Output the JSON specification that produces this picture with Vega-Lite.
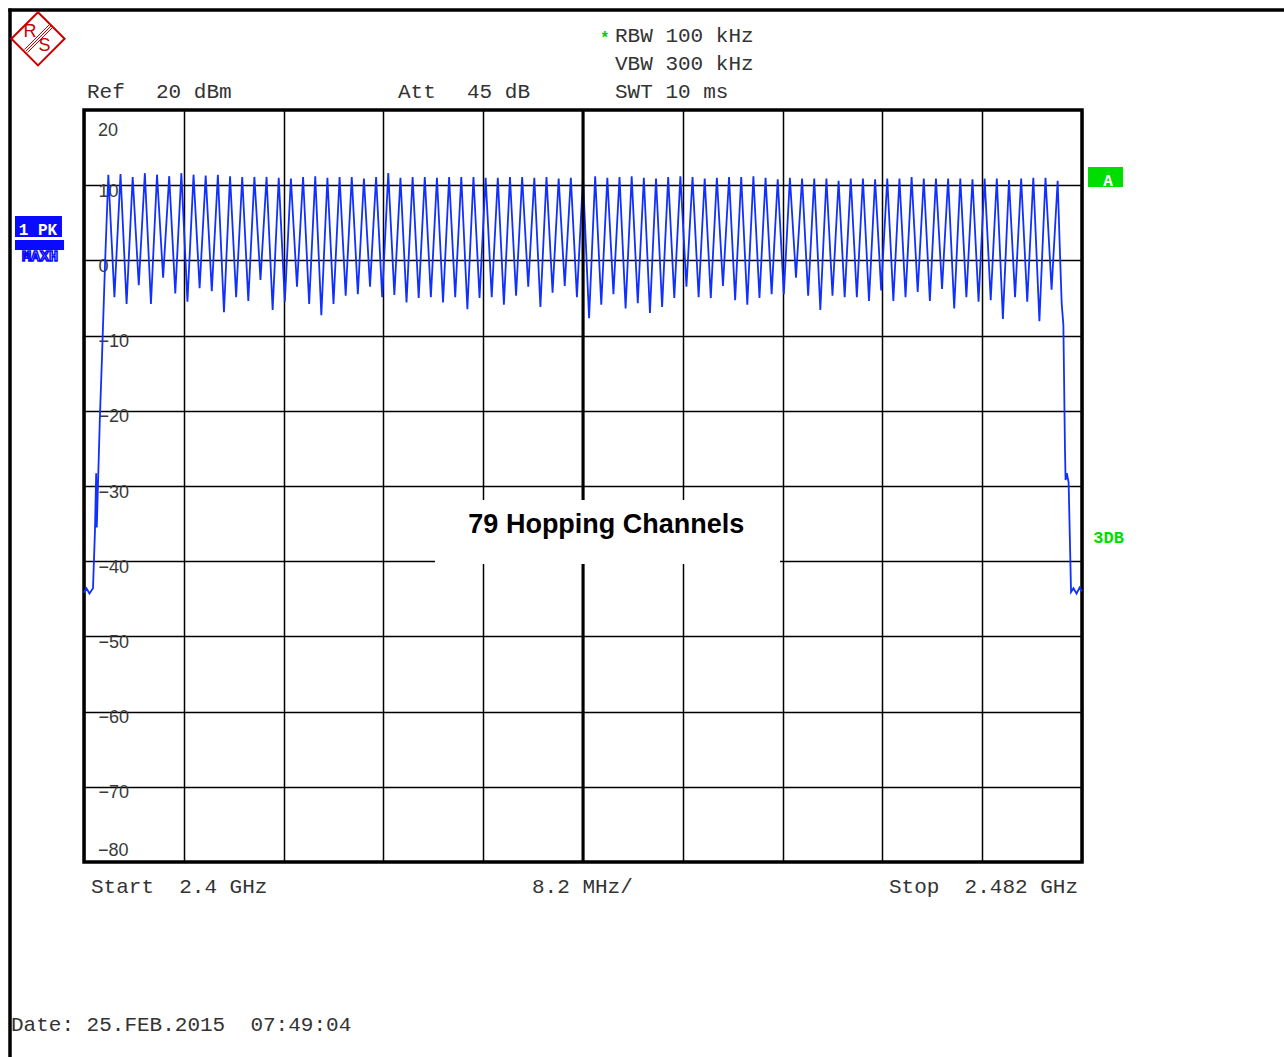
{
  "$schema": "https://vega.github.io/schema/vega-lite/v6.json",
  "width": 998,
  "height": 752,
  "autosize": {"type": "none"},
  "padding": {"left": 84, "top": 110, "right": 202, "bottom": 195},
  "background": "white",
  "config": {
    "view": {"stroke": "black", "strokeWidth": 3.5},
    "text": {"font": "Liberation Mono", "fontSize": 21, "fill": "#333333", "align": "left", "baseline": "middle"}
  },
  "layer": [
    {
      "data": {"values": [
        {"f": 2400.0, "p": -44.2}, {"f": 2400.2, "p": -43.6}, {"f": 2400.45, "p": -44.3}, {"f": 2400.74, "p": -43.6},
        {"f": 2400.9, "p": -36.0}, {"f": 2401.0, "p": -28.3}, {"f": 2401.05, "p": -35.5}, {"f": 2401.3, "p": -21.2},
        {"f": 2401.48, "p": -12.8}, {"f": 2401.73, "p": -0.4},
        {"f": 2402, "p": 11.4}, {"f": 2402.5, "p": -4.9},
        {"f": 2403, "p": 11.5}, {"f": 2403.5, "p": -5.8},
        {"f": 2404, "p": 11.1}, {"f": 2404.5, "p": -3.3},
        {"f": 2405, "p": 11.6}, {"f": 2405.5, "p": -5.8},
        {"f": 2406, "p": 11.4}, {"f": 2406.5, "p": -2.3},
        {"f": 2407, "p": 11.2}, {"f": 2407.5, "p": -4.4},
        {"f": 2408, "p": 11.6}, {"f": 2408.5, "p": -5.5},
        {"f": 2409, "p": 11.4}, {"f": 2409.5, "p": -3.7},
        {"f": 2410, "p": 11.3}, {"f": 2410.5, "p": -4.1},
        {"f": 2411, "p": 11.4}, {"f": 2411.5, "p": -6.9},
        {"f": 2412, "p": 11.2}, {"f": 2412.5, "p": -4.9},
        {"f": 2413, "p": 11.1}, {"f": 2413.5, "p": -5.4},
        {"f": 2414, "p": 11.1}, {"f": 2414.5, "p": -2.6},
        {"f": 2415, "p": 11.1}, {"f": 2415.5, "p": -6.6},
        {"f": 2416, "p": 11.0}, {"f": 2416.5, "p": -5.5},
        {"f": 2417, "p": 10.9}, {"f": 2417.5, "p": -3.5},
        {"f": 2418, "p": 11.1}, {"f": 2418.5, "p": -5.8},
        {"f": 2419, "p": 11.2}, {"f": 2419.5, "p": -7.3},
        {"f": 2420, "p": 11.0}, {"f": 2420.5, "p": -5.8},
        {"f": 2421, "p": 11.1}, {"f": 2421.5, "p": -4.7},
        {"f": 2422, "p": 11.1}, {"f": 2422.5, "p": -4.5},
        {"f": 2423, "p": 10.9}, {"f": 2423.5, "p": -3.5},
        {"f": 2424, "p": 11.1}, {"f": 2424.5, "p": -4.9},
        {"f": 2425, "p": 11.6}, {"f": 2425.5, "p": -4.6},
        {"f": 2426, "p": 11.0}, {"f": 2426.5, "p": -5.6},
        {"f": 2427, "p": 11.1}, {"f": 2427.5, "p": -5.0},
        {"f": 2428, "p": 11.1}, {"f": 2428.5, "p": -4.9},
        {"f": 2429, "p": 11.0}, {"f": 2429.5, "p": -5.6},
        {"f": 2430, "p": 11.1}, {"f": 2430.5, "p": -4.9},
        {"f": 2431, "p": 11.1}, {"f": 2431.5, "p": -6.5},
        {"f": 2432, "p": 11.1}, {"f": 2432.5, "p": -5.0},
        {"f": 2433, "p": 11.0}, {"f": 2433.5, "p": -4.9},
        {"f": 2434, "p": 11.0}, {"f": 2434.5, "p": -5.9},
        {"f": 2435, "p": 11.1}, {"f": 2435.5, "p": -4.7},
        {"f": 2436, "p": 11.1}, {"f": 2436.5, "p": -3.5},
        {"f": 2437, "p": 11.0}, {"f": 2437.5, "p": -6.2},
        {"f": 2438, "p": 11.1}, {"f": 2438.5, "p": -4.3},
        {"f": 2439, "p": 10.9}, {"f": 2439.5, "p": -3.4},
        {"f": 2440, "p": 11.0}, {"f": 2440.5, "p": -4.9},
        {"f": 2441, "p": 11.0}, {"f": 2441.5, "p": -7.7},
        {"f": 2442, "p": 11.2}, {"f": 2442.5, "p": -5.9},
        {"f": 2443, "p": 11.0}, {"f": 2443.5, "p": -4.5},
        {"f": 2444, "p": 11.1}, {"f": 2444.5, "p": -6.4},
        {"f": 2445, "p": 11.2}, {"f": 2445.5, "p": -5.7},
        {"f": 2446, "p": 11.0}, {"f": 2446.5, "p": -7.0},
        {"f": 2447, "p": 10.9}, {"f": 2447.5, "p": -6.2},
        {"f": 2448, "p": 11.1}, {"f": 2448.5, "p": -5.0},
        {"f": 2449, "p": 11.2}, {"f": 2449.5, "p": -3.5},
        {"f": 2450, "p": 11.1}, {"f": 2450.5, "p": -4.9},
        {"f": 2451, "p": 10.9}, {"f": 2451.5, "p": -5.0},
        {"f": 2452, "p": 11.0}, {"f": 2452.5, "p": -3.4},
        {"f": 2453, "p": 11.1}, {"f": 2453.5, "p": -5.3},
        {"f": 2454, "p": 11.1}, {"f": 2454.5, "p": -5.9},
        {"f": 2455, "p": 11.2}, {"f": 2455.5, "p": -5.0},
        {"f": 2456, "p": 11.0}, {"f": 2456.5, "p": -4.5},
        {"f": 2457, "p": 10.8}, {"f": 2457.5, "p": -4.5},
        {"f": 2458, "p": 11.0}, {"f": 2458.5, "p": -2.3},
        {"f": 2459, "p": 10.9}, {"f": 2459.5, "p": -4.7},
        {"f": 2460, "p": 10.9}, {"f": 2460.5, "p": -6.6},
        {"f": 2461, "p": 10.9}, {"f": 2461.5, "p": -4.7},
        {"f": 2462, "p": 10.6}, {"f": 2462.5, "p": -4.9},
        {"f": 2463, "p": 10.9}, {"f": 2463.5, "p": -4.9},
        {"f": 2464, "p": 10.9}, {"f": 2464.5, "p": -5.4},
        {"f": 2465, "p": 10.8}, {"f": 2465.5, "p": -4.0},
        {"f": 2466, "p": 10.9}, {"f": 2466.5, "p": -5.4},
        {"f": 2467, "p": 10.9}, {"f": 2467.5, "p": -4.9},
        {"f": 2468, "p": 11.1}, {"f": 2468.5, "p": -4.2},
        {"f": 2469, "p": 10.9}, {"f": 2469.5, "p": -5.4},
        {"f": 2470, "p": 10.9}, {"f": 2470.5, "p": -3.8},
        {"f": 2471, "p": 10.9}, {"f": 2471.5, "p": -6.4},
        {"f": 2472, "p": 10.9}, {"f": 2472.5, "p": -4.9},
        {"f": 2473, "p": 10.8}, {"f": 2473.5, "p": -5.5},
        {"f": 2474, "p": 10.9}, {"f": 2474.5, "p": -5.3},
        {"f": 2475, "p": 10.9}, {"f": 2475.5, "p": -7.8},
        {"f": 2476, "p": 10.7}, {"f": 2476.5, "p": -4.9},
        {"f": 2477, "p": 10.9}, {"f": 2477.5, "p": -5.5},
        {"f": 2478, "p": 11.0}, {"f": 2478.5, "p": -8.1},
        {"f": 2479, "p": 11.0}, {"f": 2479.5, "p": -3.9},
        {"f": 2480, "p": 10.6},
        {"f": 2480.2, "p": 0.5}, {"f": 2480.33, "p": -5.7}, {"f": 2480.47, "p": -8.6},
        {"f": 2480.6, "p": -25.0}, {"f": 2480.65, "p": -29.2}, {"f": 2480.75, "p": -28.3}, {"f": 2480.9, "p": -29.5},
        {"f": 2481.1, "p": -44.1}, {"f": 2481.3, "p": -43.6}, {"f": 2481.55, "p": -44.3}, {"f": 2481.8, "p": -43.5},
        {"f": 2482.0, "p": -44.0}
      ]},
      "mark": {"type": "line", "color": "#1030ff", "strokeWidth": 1.8},
      "encoding": {
        "x": {
          "field": "f", "type": "quantitative",
          "scale": {"domain": [2400, 2482], "nice": false, "zero": false},
          "axis": {
            "values": [2400, 2408.2, 2416.4, 2424.6, 2432.8, 2441, 2449.2, 2457.4, 2465.6, 2473.8, 2482],
            "grid": true, "gridColor": "black", "gridWidth": 1.5, "gridOpacity": 1,
            "labels": false, "ticks": false, "domain": false, "title": null
          }
        },
        "y": {
          "field": "p", "type": "quantitative",
          "scale": {"domain": [-80, 20], "nice": false, "zero": false},
          "axis": {
            "values": [-70, -60, -50, -40, -30, -20, -10, 0, 10],
            "grid": true, "gridColor": "black", "gridWidth": 1.5, "gridOpacity": 1,
            "ticks": false, "tickSize": 0, "domain": false, "title": null,
            "labelAlign": "left", "labelPadding": -14, "labelBaseline": "middle",
            "labelFont": "Liberation Sans", "labelFontSize": 18, "labelColor": "#3a3a3a",
            "labelOffset": 6, "labelFlush": false
          }
        }
      }
    },
    {
      "data": {"values": [{}]},
      "mark": {"type": "text", "text": "20", "font": "Liberation Sans", "fontSize": 18, "fill": "#3a3a3a"},
      "encoding": {"x": {"datum": 2401.15}, "y": {"datum": 17.2}}
    },
    {
      "data": {"values": [{}]},
      "mark": {"type": "text", "text": "−80", "font": "Liberation Sans", "fontSize": 18, "fill": "#3a3a3a"},
      "encoding": {"x": {"datum": 2401.15}, "y": {"datum": -78.5}}
    },
    {
      "data": {"values": [{}]},
      "mark": {"type": "rule", "color": "black", "strokeWidth": 3},
      "encoding": {"x": {"datum": 2441}, "y": {"datum": 20}, "y2": {"datum": -80}}
    },
    {
      "data": {"values": [{}]},
      "mark": {"type": "rect", "color": "white", "opacity": 1},
      "encoding": {"x": {"datum": 2428.84}, "x2": {"datum": 2457.19}, "y": {"datum": -31.86}, "y2": {"datum": -40.37}}
    },
    {
      "data": {"values": [{}]},
      "mark": {"type": "text", "text": "79 Hopping Channels", "font": "Liberation Sans", "fontWeight": "bold", "fontSize": 27, "fill": "black", "align": "center", "baseline": "alphabetic"},
      "encoding": {"x": {"datum": 2442.92}, "y": {"datum": -36.25}}
    },
    {
      "data": {"values": [{}]},
      "mark": {"type": "rule", "color": "black", "strokeWidth": 3.5},
      "encoding": {"x": {"datum": 2393.92}, "y": {"datum": 33.5}, "y2": {"datum": -110}}
    },
    {
      "data": {"values": [{}]},
      "mark": {"type": "rule", "color": "black", "strokeWidth": 3.5},
      "encoding": {"x": {"datum": 2393.78}, "x2": {"datum": 2520}, "y": {"datum": 33.3}}
    },
    {
      "data": {"values": [{}]},
      "mark": {"type": "point", "shape": "diamond", "size": 2830, "stroke": "#cc0000", "strokeWidth": 2, "fill": "white", "filled": false, "opacity": 1},
      "encoding": {"x": {"datum": 2396.22}, "y": {"datum": 29.47}}
    },
    {
      "data": {"values": [{}]},
      "mark": {"type": "rule", "color": "#cc0000", "strokeWidth": 1},
      "encoding": {"x": {"datum": 2397.165}, "x2": {"datum": 2395.11}, "y": {"datum": 31.37}, "y2": {"datum": 28.045}}
    },
    {
      "data": {"values": [{}]},
      "mark": {"type": "rule", "color": "#cc0000", "strokeWidth": 1},
      "encoding": {"x": {"datum": 2397.29}, "x2": {"datum": 2395.234}, "y": {"datum": 31.17}, "y2": {"datum": 27.846}}
    },
    {
      "data": {"values": [{}]},
      "mark": {"type": "rule", "color": "#cc0000", "strokeWidth": 1},
      "encoding": {"x": {"datum": 2397.412}, "x2": {"datum": 2395.357}, "y": {"datum": 30.97}, "y2": {"datum": 27.646}}
    },
    {
      "data": {"values": [{}]},
      "mark": {"type": "text", "text": "R", "font": "Liberation Sans", "fontSize": 18, "fill": "#cc0000", "align": "center"},
      "encoding": {"x": {"datum": 2395.56}, "y": {"datum": 30.37}}
    },
    {
      "data": {"values": [{}]},
      "mark": {"type": "text", "text": "S", "font": "Liberation Sans", "fontSize": 18, "fill": "#cc0000", "align": "center"},
      "encoding": {"x": {"datum": 2396.755}, "y": {"datum": 28.51}}
    },
    {
      "data": {"values": [{}]},
      "mark": {"type": "text", "text": "Ref"},
      "encoding": {"x": {"datum": 2400.246}, "y": {"datum": 22.39}}
    },
    {
      "data": {"values": [{}]},
      "mark": {"type": "text", "text": "20 dBm"},
      "encoding": {"x": {"datum": 2405.916}, "y": {"datum": 22.39}}
    },
    {
      "data": {"values": [{}]},
      "mark": {"type": "text", "text": "Att"},
      "encoding": {"x": {"datum": 2425.8}, "y": {"datum": 22.39}}
    },
    {
      "data": {"values": [{}]},
      "mark": {"type": "text", "text": "45 dB"},
      "encoding": {"x": {"datum": 2431.47}, "y": {"datum": 22.39}}
    },
    {
      "data": {"values": [{}]},
      "mark": {"type": "text", "text": "*", "fill": "#00cc00", "fontSize": 16, "fontWeight": "bold"},
      "encoding": {"x": {"datum": 2442.4}, "y": {"datum": 29.6}}
    },
    {
      "data": {"values": [{}]},
      "mark": {"type": "text", "text": "RBW 100 kHz"},
      "encoding": {"x": {"datum": 2443.63}, "y": {"datum": 29.84}}
    },
    {
      "data": {"values": [{}]},
      "mark": {"type": "text", "text": "VBW 300 kHz"},
      "encoding": {"x": {"datum": 2443.63}, "y": {"datum": 26.12}}
    },
    {
      "data": {"values": [{}]},
      "mark": {"type": "text", "text": "SWT 10 ms"},
      "encoding": {"x": {"datum": 2443.63}, "y": {"datum": 22.39}}
    },
    {
      "data": {"values": [{}]},
      "mark": {"type": "text", "text": "Start\u00a0\u00a02.4 GHz"},
      "encoding": {"x": {"datum": 2400.575}, "y": {"datum": -83.32}}
    },
    {
      "data": {"values": [{}]},
      "mark": {"type": "text", "text": "8.2 MHz/"},
      "encoding": {"x": {"datum": 2436.81}, "y": {"datum": -83.32}}
    },
    {
      "data": {"values": [{}]},
      "mark": {"type": "text", "text": "Stop\u00a0\u00a02.482 GHz"},
      "encoding": {"x": {"datum": 2466.14}, "y": {"datum": -83.32}}
    },
    {
      "data": {"values": [{}]},
      "mark": {"type": "text", "text": "Date: 25.FEB.2015\u00a0\u00a007:49:04"},
      "encoding": {"x": {"datum": 2394.0}, "y": {"datum": -101.68}}
    },
    {
      "data": {"values": [{}]},
      "mark": {"type": "rect", "color": "#0a0aff", "opacity": 1},
      "encoding": {"x": {"datum": 2394.33}, "x2": {"datum": 2398.19}, "y": {"datum": 5.9}, "y2": {"datum": 3.11}}
    },
    {
      "data": {"values": [{}]},
      "mark": {"type": "rect", "color": "#0a0aff", "opacity": 1},
      "encoding": {"x": {"datum": 2394.33}, "x2": {"datum": 2398.36}, "y": {"datum": 2.71}, "y2": {"datum": 1.38}}
    },
    {
      "data": {"values": [{}]},
      "mark": {"type": "text", "text": "1 PK", "fill": "white", "fontSize": 16, "fontWeight": "bold", "align": "center"},
      "encoding": {"x": {"datum": 2396.22}, "y": {"datum": 4.04}}
    },
    {
      "data": {"values": [{}]},
      "mark": {"type": "text", "text": "MAXH", "fill": "white", "stroke": "#0a0aff", "strokeWidth": 1.5, "fontSize": 15, "fontWeight": "bold", "align": "center"},
      "encoding": {"x": {"datum": 2396.38}, "y": {"datum": 0.6}}
    },
    {
      "data": {"values": [{}]},
      "mark": {"type": "rect", "color": "#00dd00", "opacity": 1},
      "encoding": {"x": {"datum": 2482.49}, "x2": {"datum": 2485.37}, "y": {"datum": 12.42}, "y2": {"datum": 9.76}}
    },
    {
      "data": {"values": [{}]},
      "mark": {"type": "text", "text": "A", "fill": "white", "fontSize": 16, "fontWeight": "bold", "align": "center"},
      "encoding": {"x": {"datum": 2484.14}, "y": {"datum": 10.5}}
    },
    {
      "data": {"values": [{}]},
      "mark": {"type": "text", "text": "3DB", "fill": "#00dd00", "fontSize": 17, "fontWeight": "bold", "align": "center"},
      "encoding": {"x": {"datum": 2484.18}, "y": {"datum": -36.85}}
    }
  ]
}
